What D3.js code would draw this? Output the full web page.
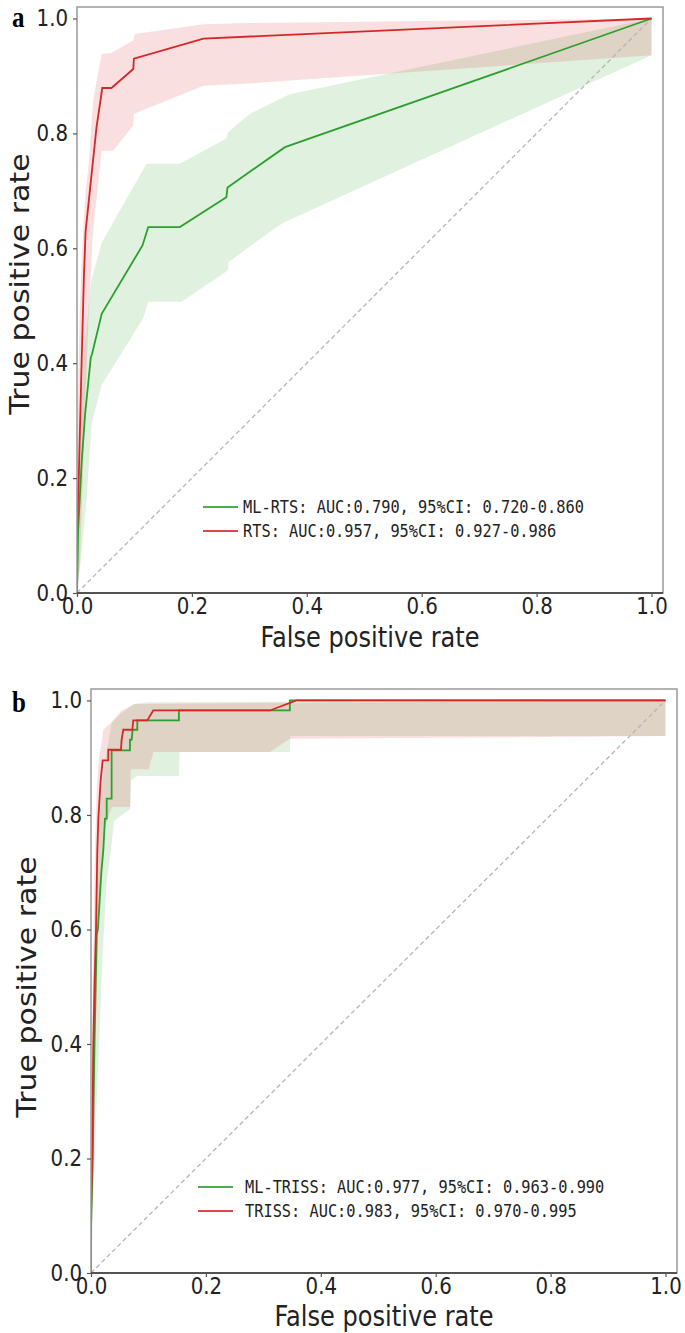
<!DOCTYPE html>
<html>
<head>
<meta charset="utf-8">
<script src="https://cdn.jsdelivr.net/npm/d3@7"></script>
<style>
  body { margin: 0; background: #fff; }
  svg { display: block; }
</style>
</head>
<body>
<div id="chart"></div>
<script>
// shared ticks
var ticks = [0, 0.2, 0.4, 0.6, 0.8, 1.0];

// panel a: ML-RTS (green)
var mlRtsFpr = [0, 0.002, 0.008, 0.014, 0.024, 0.026, 0.043, 0.114, 0.124, 0.179, 0.260, 0.262, 0.362, 1.0];
var mlRtsTpr = [0, 0.11, 0.226, 0.31, 0.41, 0.415, 0.486, 0.605, 0.637, 0.637, 0.689, 0.706, 0.776, 1.0];
var mlRtsHiX = [0, 0.006, 0.012, 0.024, 0.043, 0.121, 0.179, 0.26, 0.263, 0.301, 0.37, 1.0];
var mlRtsHi = [0.1, 0.31, 0.41, 0.54, 0.61, 0.747, 0.747, 0.791, 0.802, 0.834, 0.868, 1.0];
var mlRtsLoX = [0, 0.006, 0.017, 0.0255, 0.043, 0.115, 0.124, 0.182, 0.263, 0.264, 0.339, 0.36, 1.0];
var mlRtsLo = [0, 0.05, 0.167, 0.295, 0.362, 0.478, 0.507, 0.507, 0.562, 0.576, 0.631, 0.645, 0.936];

// panel a: RTS (red)
var rtsFpr = [0, 0, 0.003, 0.008, 0.012, 0.015, 0.023, 0.034, 0.044, 0.060, 0.098, 0.099, 0.220, 1.0];
var rtsTpr = [0, 0.1, 0.2, 0.4, 0.55, 0.63, 0.706, 0.811, 0.879, 0.879, 0.912, 0.930, 0.965, 1.0];
var rtsHiX = [0, 0.005, 0.01, 0.015, 0.02, 0.028, 0.043, 0.06, 0.098, 0.101, 0.22, 0.3, 1.0];
var rtsHi = [0.25, 0.5, 0.62, 0.7, 0.742, 0.857, 0.938, 0.94, 0.962, 0.973, 0.99, 0.992, 1.0];
var rtsLoX = [0, 0.005, 0.01, 0.015, 0.02, 0.028, 0.043, 0.063, 0.098, 0.099, 0.22, 0.3, 1.0];
var rtsLo = [0, 0.05, 0.2, 0.35, 0.48, 0.63, 0.77, 0.77, 0.814, 0.834, 0.883, 0.887, 0.936];

// panel b: ML-TRISS (green)
var mlTrissFpr = [0, 0, 0.003, 0.006, 0.010, 0.012, 0.015, 0.018, 0.0214, 0.0243, 0.0273, 0.0273, 0.0359, 0.0359, 0.0678, 0.0678, 0.0707, 0.0725, 0.0806, 0.0806, 0.153, 0.153, 0.3461, 0.3461, 1.0];
var mlTrissTpr = [0, 0.08, 0.2, 0.4, 0.59, 0.6, 0.65, 0.7, 0.738, 0.7935, 0.7935, 0.8284, 0.8284, 0.9127, 0.9127, 0.9314, 0.9314, 0.9488, 0.9488, 0.9651, 0.9651, 0.9825, 0.9825, 1.0, 1.0];
var mlTrissHiX = [0, 0.005, 0.01, 0.015, 0.02, 0.027, 0.036, 0.05, 0.075, 0.1, 1.0];
var mlTrissHi = [0.05, 0.4, 0.7, 0.8, 0.86, 0.91, 0.96, 0.975, 0.994, 0.997, 1.0];
var mlTrissLoX = [0, 0.01, 0.02, 0.027, 0.036, 0.04, 0.068, 0.07, 0.08, 0.153, 0.154, 0.346, 0.347, 1.0];
var mlTrissLo = [0, 0.3, 0.55, 0.68, 0.75, 0.79, 0.81, 0.86, 0.868, 0.868, 0.91, 0.91, 0.938, 0.938];

// panel b: TRISS (red)
var trissFpr = [0, 0, 0.002, 0.004, 0.006, 0.0087, 0.011, 0.0128, 0.0168, 0.0203, 0.0301, 0.0301, 0.0522, 0.0533, 0.0562, 0.0719, 0.0736, 0.098, 0.1084, 0.3113, 0.3577, 1.0];
var trissTpr = [0, 0.1, 0.2, 0.4, 0.5, 0.6, 0.738, 0.7935, 0.8604, 0.8953, 0.8953, 0.9139, 0.9139, 0.9314, 0.9488, 0.9488, 0.9651, 0.9651, 0.9825, 0.9825, 1.0, 1.0];
var trissHiX = [0, 0.003, 0.006, 0.01, 0.014, 0.019, 0.0214, 0.033, 0.053, 0.076, 1.0];
var trissHi = [0.2, 0.5, 0.7, 0.85, 0.9, 0.93, 0.9488, 0.9593, 0.9825, 0.994, 1.0];
var trissLoX = [0, 0.008, 0.012, 0.018, 0.025, 0.036, 0.068, 0.069, 0.1, 0.109, 0.311, 0.346, 1.0];
var trissLo = [0, 0.4, 0.6, 0.7, 0.78, 0.814, 0.814, 0.88, 0.88, 0.91, 0.91, 0.933, 0.938];

var legendA = ['ML-RTS: AUC:0.790, 95%CI: 0.720-0.860', 'RTS: AUC:0.957, 95%CI: 0.927-0.986'];
var legendB = ['ML-TRISS: AUC:0.977, 95%CI: 0.963-0.990', 'TRISS: AUC:0.983, 95%CI: 0.970-0.995'];

var GREEN = '#2ca02c';
var RED = '#d62728';
var SQ = 0.86; // horizontal squeeze of the source picture text

var svg = d3.select('#chart').append('svg')
  .attr('width', 685).attr('height', 1333);

function panel(p) {
  var x = d3.scaleLinear().domain([0, 1.02]).range([p.left, p.right]);
  var y = d3.scaleLinear().domain([0, 1.02]).range([p.bottom, p.top]);
  var g = svg.append('g');

  var clipId = 'clip_' + p.name;
  g.append('clipPath').attr('id', clipId).append('rect')
    .attr('x', p.left).attr('y', p.top)
    .attr('width', p.right - p.left).attr('height', p.bottom - p.top);
  var plot = g.append('g').attr('clip-path', 'url(#' + clipId + ')');

  var line = d3.line().x(function (d) { return x(d[0]); }).y(function (d) { return y(d[1]); });

  // bands
  p.series.forEach(function (s) {
    var pts = s.hiX.map(function (v, i) { return [v, s.hi[i]]; })
      .concat(s.loX.map(function (v, i) { return [v, s.lo[i]]; }).reverse());
    plot.append('path')
      .attr('d', line(pts) + 'Z')
      .attr('fill', s.color)
      .attr('fill-opacity', 0.15)
      .attr('stroke', 'none');
  });

  // chance line
  plot.append('path')
    .attr('d', line([[0, 0], [1, 1]]))
    .attr('stroke', '#b5b5b5')
    .attr('stroke-width', 1.3)
    .attr('stroke-dasharray', '4.5,3')
    .attr('fill', 'none');

  // mean curves
  p.series.forEach(function (s) {
    plot.append('path')
      .attr('d', line(s.fpr.map(function (v, i) { return [v, s.tpr[i]]; })))
      .attr('stroke', s.color)
      .attr('stroke-width', 1.8)
      .attr('fill', 'none');
  });

  // frame
  g.append('rect')
    .attr('x', p.left).attr('y', p.top)
    .attr('width', p.right - p.left).attr('height', p.bottom - p.top)
    .attr('fill', 'none').attr('stroke', '#999').attr('stroke-width', 1.5);
  g.append('line')
    .attr('x1', p.left).attr('x2', p.right)
    .attr('y1', p.bottom).attr('y2', p.bottom)
    .attr('stroke', '#333').attr('stroke-width', 1.6);

  // axes
  var fmt = d3.format('.1f');
  var ax = g.append('g').attr('transform', 'translate(0,' + p.bottom + ')')
    .call(d3.axisBottom(x).tickValues(ticks).tickFormat(fmt).tickSize(4).tickPadding(1));
  var ay = g.append('g').attr('transform', 'translate(' + p.left + ',0)')
    .call(d3.axisLeft(y).tickValues(ticks).tickFormat(fmt).tickSize(4).tickPadding(5));
  [ax, ay].forEach(function (a) {
    a.select('.domain').remove();
    a.selectAll('.tick line').attr('stroke', '#555').attr('stroke-width', 1.2);
    a.selectAll('.tick text')
      .attr('font-family', 'DejaVu Sans')
      .attr('font-size', 23)
      .attr('fill', '#222');
  });
  ax.selectAll('.tick text').attr('transform', 'scale(' + SQ + ',1)');
  ay.selectAll('.tick text').attr('x', -9 / SQ).attr('transform', 'scale(' + SQ + ',1)');

  // axis titles
  g.append('text')
    .attr('transform', 'translate(' + ((p.left + p.right) / 2) + ',' + p.xTitleY + ') scale(' + SQ + ',1)')
    .attr('text-anchor', 'middle')
    .attr('font-family', 'DejaVu Sans').attr('font-size', 28).attr('fill', '#222')
    .text('False positive rate');
  g.append('text')
    .attr('transform', 'translate(' + p.yTitleX + ',' + p.yTitleMid + ') scale(' + SQ + ',1) rotate(-90)')
    .attr('text-anchor', 'middle')
    .attr('font-family', 'DejaVu Sans').attr('font-size', 30).attr('fill', '#222')
    .text('True positive rate');

  // panel letter
  g.append('text')
    .attr('transform', 'translate(12,' + p.letterY + ') scale(' + SQ + ',1)')
    .attr('font-family', 'Liberation Serif').attr('font-weight', 'bold')
    .attr('font-size', 29).attr('fill', '#000')
    .text(p.name);

  // legend
  var lg = g.append('g');
  p.series.forEach(function (s, i) {
    var ly = p.legendY + i * 24;
    lg.append('line')
      .attr('x1', p.legendX).attr('x2', p.legendX + 35)
      .attr('y1', ly).attr('y2', ly)
      .attr('stroke', s.color).attr('stroke-width', 1.8).attr('stroke-opacity', 0.85);
    lg.append('text')
      .attr('transform', 'translate(' + (p.legendX + 40 + p.textGap) + ',' + (ly + 5.5) + ') scale(' + SQ + ',1)')
      .attr('font-family', 'DejaVu Sans Mono').attr('font-size', 17.8).attr('fill', '#222')
      .text(p.legend[i]);
  });
}

panel({
  name: 'a', left: 77, right: 663, top: 7, bottom: 593,
  xTitleY: 647, yTitleX: 29, yTitleMid: 284, letterY: 27,
  legendX: 203, legendY: 507, textGap: 0, legend: legendA,
  series: [
    { color: GREEN, fpr: mlRtsFpr, tpr: mlRtsTpr, hiX: mlRtsHiX, hi: mlRtsHi, loX: mlRtsLoX, lo: mlRtsLo },
    { color: RED, fpr: rtsFpr, tpr: rtsTpr, hiX: rtsHiX, hi: rtsHi, loX: rtsLoX, lo: rtsLo }
  ]
});

panel({
  name: 'b', left: 91, right: 677, top: 689, bottom: 1273,
  xTitleY: 1326, yTitleX: 36, yTitleMid: 987, letterY: 712,
  legendX: 198, legendY: 1187, textGap: 7, legend: legendB,
  series: [
    { color: GREEN, fpr: mlTrissFpr, tpr: mlTrissTpr, hiX: mlTrissHiX, hi: mlTrissHi, loX: mlTrissLoX, lo: mlTrissLo },
    { color: RED, fpr: trissFpr, tpr: trissTpr, hiX: trissHiX, hi: trissHi, loX: trissLoX, lo: trissLo }
  ]
});
</script>
</body>
</html>
